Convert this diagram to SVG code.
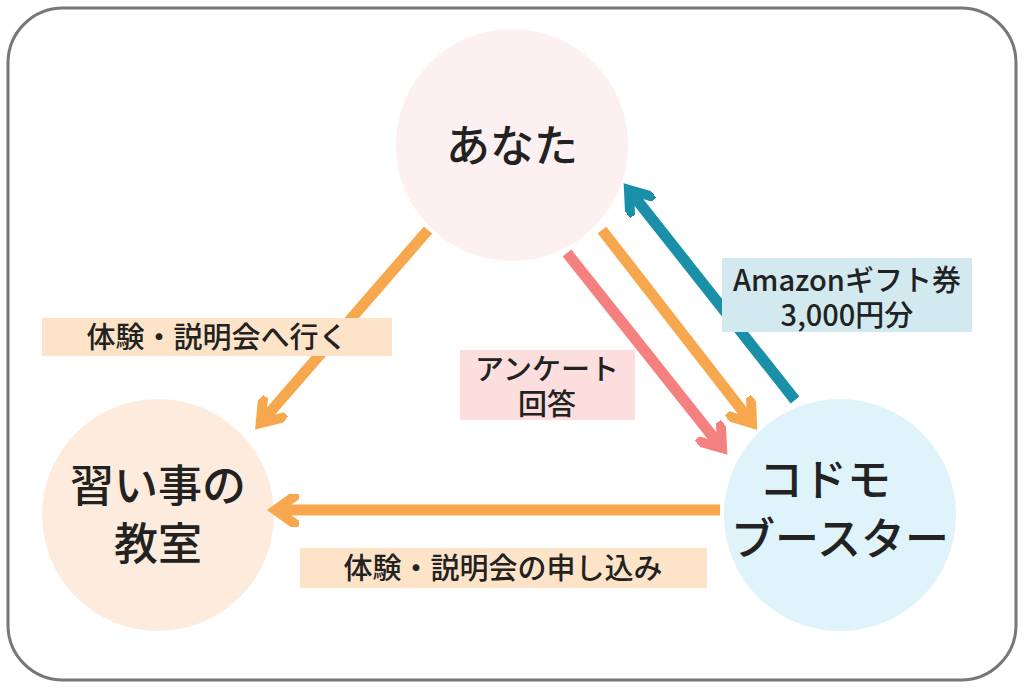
<svg xmlns="http://www.w3.org/2000/svg" width="1024" height="688" viewBox="0 0 1024 688">
<defs>
<style>
text{font-family:"Noto Sans CJK JP","Noto Sans",sans-serif;fill:#222;text-anchor:middle;font-weight:500}
.n{font-size:44px}
.l{font-size:29px}
.a{stroke-width:11;fill:none}
</style>
<marker id="mo" viewBox="0 0 10 10" refX="5" refY="5" markerWidth="3" markerHeight="3" orient="auto"><path d="M0,0 L7,5 L0,10" fill="none" stroke="#f7a84e" stroke-width="3"/></marker>
<marker id="mp" viewBox="0 0 10 10" refX="5" refY="5" markerWidth="3" markerHeight="3" orient="auto"><path d="M0,0 L7,5 L0,10" fill="none" stroke="#f48080" stroke-width="3"/></marker>
<marker id="mb" viewBox="0 0 10 10" refX="5" refY="5" markerWidth="3" markerHeight="3" orient="auto"><path d="M0,0 L7,5 L0,10" fill="none" stroke="#1a8fa8" stroke-width="3"/></marker>
</defs>
<rect width="1024" height="688" fill="#fff"/>
<rect x="8" y="8" width="1008" height="672" rx="55" fill="#fff" stroke="#777" stroke-width="3"/>
<g id="you"><circle cx="512" cy="145" r="116" fill="#fdf0f0"/><text class="n" x="512" y="162">あなた</text></g>
<g id="school"><circle cx="158" cy="515" r="116" fill="#fdecdd"/><text class="n" x="158" y="502">習い事の</text><text class="n" x="158" y="560">教室</text></g>
<g id="kodomo"><circle cx="840" cy="515" r="116" fill="#dff3fa"/><text class="n" x="825" y="496">コドモ</text><text class="n" x="840" y="555">ブースター</text></g>
<g id="connectors">
<line class="a" stroke="#f7a84e" x1="428" y1="230" x2="265" y2="418" marker-end="url(#mo)"/>
<line class="a" stroke="#f7a84e" x1="602" y1="230" x2="748" y2="418" marker-end="url(#mo)"/>
<line class="a" stroke="#f48080" x1="567" y1="253" x2="718" y2="443" marker-end="url(#mp)"/>
<line class="a" stroke="#1a8fa8" x1="795" y1="400" x2="633" y2="195" marker-end="url(#mb)"/>
<line class="a" stroke="#f7a84e" x1="720" y1="510" x2="282" y2="510" marker-end="url(#mo)"/>
</g>
<g id="labels">
<rect x="42" y="318" width="350" height="38" fill="#fde3c8"/><text class="l" x="217" y="348">体験・説明会へ行く</text>
<rect x="460" y="350" width="175" height="70" fill="#fcdede"/><text class="l" x="547" y="380">アンケート</text><text class="l" x="547" y="415">回答</text>
<rect x="722" y="258" width="250" height="74" fill="#d3e9f0"/><text class="l" x="847" y="291">Amazonギフト券</text><text class="l" x="847" y="326">3,000円分</text>
<rect x="300" y="548" width="407" height="40" fill="#fde3c8"/><text class="l" x="503" y="579">体験・説明会の申し込み</text>
</g>
</svg>
